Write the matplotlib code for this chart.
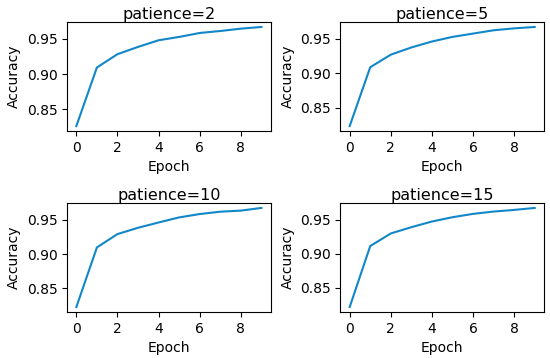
import matplotlib
matplotlib.use('Agg')
import matplotlib.pyplot as plt

epochs = list(range(10))

acc_p2 = [0.8265, 0.9094, 0.9282, 0.9385, 0.9479, 0.9526, 0.9582, 0.9610, 0.9643, 0.9667]
acc_p5 = [0.8232, 0.9086, 0.9268, 0.9373, 0.9459, 0.9526, 0.9574, 0.9622, 0.9650, 0.9670]
acc_p10 = [0.8228, 0.9097, 0.9291, 0.9383, 0.9460, 0.9534, 0.9583, 0.9617, 0.9633, 0.9672]
acc_p15 = [0.8218, 0.9112, 0.9296, 0.9388, 0.9471, 0.9534, 0.9583, 0.9617, 0.9641, 0.9670]

titles = ['patience=2', 'patience=5', 'patience=10', 'patience=15']
series = [acc_p2, acc_p5, acc_p10, acc_p15]

fig, axes = plt.subplots(2, 2, figsize=(5.5, 3.58), dpi=100)
plt.subplots_adjust(left=0.122, right=0.989, top=0.9385, bottom=0.1285,
                    wspace=0.343, hspace=0.66)

for ax, title, acc in zip(axes.flat, titles, series):
    ax.plot(epochs, acc, color='#1187c9', linewidth=1.5)
    ax.set_title(title, fontsize=11.5, pad=2)
    ax.set_xlabel('Epoch')
    ax.set_ylabel('Accuracy')
    ax.set_yticks([0.85, 0.90, 0.95])
    ax.set_xticks([0, 2, 4, 6, 8])

fig.savefig('out.png')
